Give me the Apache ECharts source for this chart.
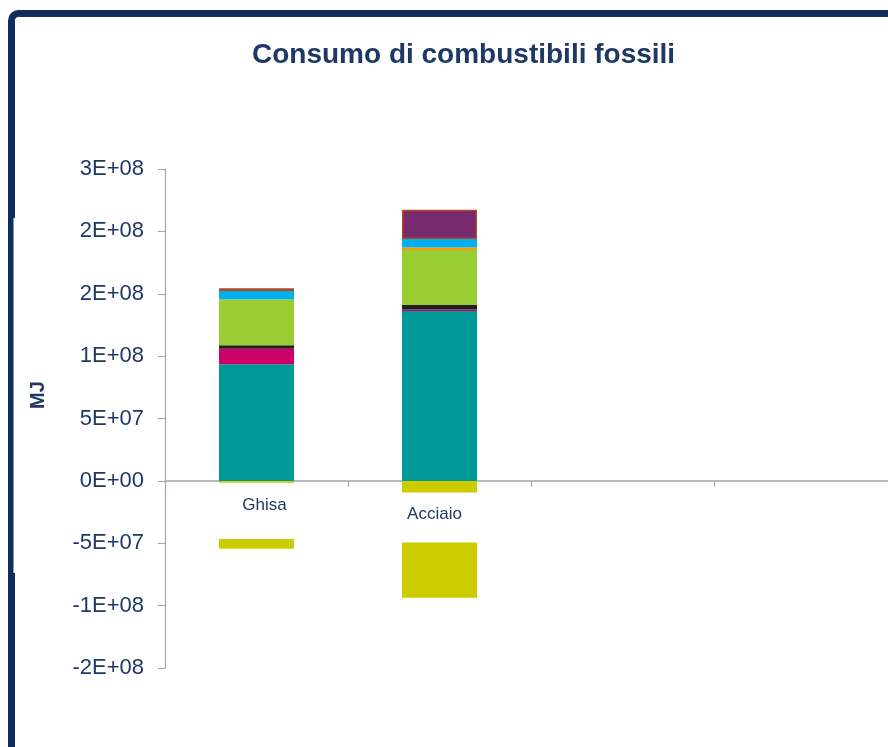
<!DOCTYPE html>
<html>
<head>
<meta charset="utf-8">
<title>Consumo di combustibili fossili</title>
<script src="https://cdn.jsdelivr.net/npm/echarts@6/dist/echarts.min.js"></script>
<style>
  html, body { margin: 0; padding: 0; background: #ffffff; overflow: hidden; width: 888px; height: 747px; }
  /* the plot runs a little past the right edge of the window */
  #chart { width: 910px; height: 747px; }
</style>
</head>
<body>
<div id="chart"></div>
<script>
// Categories on the x axis (the last two slots are empty)
const categories = ['Ghisa', 'Acciaio', '', ''];

// Positive contributions, MJ (stacked bottom to top)
const teal    = [93.5e6, 136.2e6, null, null];
const magenta = [12.5e6,   1.2e6, null, null];
const dark    = [ 2.7e6,   3.5e6, null, null];
const green   = [36.9e6,  44.1e6, null, null];
const orange  = [    0,    2.1e6, null, null];
const blue    = [ 6.6e6,   6.7e6, null, null];
const purple  = [ 2.2e6,  23.5e6, null, null];

// Negative contributions, MJ (stacked downward from zero)
const credit1 = [-1.5e6,  -9.4e6, null, null];
const spacer  = [-45.0e6, -40.0e6, null, null];
const credit2 = [-8.0e6,  -44.3e6, null, null];

// Y axis range and the printed tick labels
const yMin = -150e6, yMax = 250e6, yStep = 50e6;
const tickLabels = ['-2E+08', '-1E+08', '-5E+07', '0E+00', '5E+07', '1E+08', '2E+08', '2E+08', '3E+08'];

const navy = '#1F3864';
const axisGray = '#A0A4B0';
const font = 'Liberation Sans, Arial, sans-serif';

function bar(name, data, color, extra) {
  return Object.assign({
    name: name,
    type: 'bar',
    stack: 'total',
    barWidth: 75,
    data: data,
    itemStyle: { color: color },
    emphasis: { disabled: true },
    animation: false
  }, extra || {});
}

const chart = echarts.init(document.getElementById('chart'), null, { renderer: 'canvas' });

chart.setOption({
  backgroundColor: '#ffffff',
  animation: false,
  title: {
    text: 'Consumo di combustibili fossili',
    left: 247,
    top: 36,
    textStyle: { color: navy, fontFamily: font, fontSize: 28, fontWeight: 'bold' }
  },
  grid: { left: 165, top: 169, width: 732, height: 499, containLabel: false },
  xAxis: {
    type: 'category',
    data: [
      { value: categories[0], textStyle: { padding: [0, 0, 0, 16] } },
      { value: categories[1], textStyle: { padding: [9, 10, 0, 0] } },
      categories[2],
      categories[3]
    ],
    axisLine: { onZero: true, lineStyle: { color: axisGray, width: 1.5 } },
    axisTick: { show: true, length: 6, lineStyle: { color: axisGray } },
    // labels sit just under the zero line rather than at the grid bottom
    axisLabel: { color: navy, fontFamily: font, fontSize: 17, margin: -171, verticalAlign: 'top', interval: 0 },
    splitLine: { show: false }
  },
  yAxis: {
    type: 'value',
    min: yMin,
    max: yMax,
    interval: yStep,
    axisLine: { show: true, lineStyle: { color: axisGray, width: 1.2 } },
    axisTick: { show: true, length: 7, lineStyle: { color: axisGray } },
    axisLabel: {
      color: navy,
      fontFamily: font,
      fontSize: 22,
      margin: 21,
      formatter: function (v) {
        return tickLabels[Math.round((v - yMin) / yStep)];
      }
    },
    splitLine: { show: false }
  },
  series: [
    bar('teal', teal, '#009999'),
    bar('magenta', magenta, '#CC0066'),
    bar('dark', dark, '#231F20'),
    bar('green', green, '#99CC33'),
    bar('orange', orange, '#FF9900'),
    bar('blue', blue, '#00B0F0'),
    bar('purple', purple, '#772B6E', {
      itemStyle: { color: '#772B6E', borderColor: '#B5481E', borderWidth: 1.5 }
    }),
    bar('credit1', credit1, '#CCCC00'),
    bar('spacer', spacer, 'rgba(0,0,0,0)'),
    bar('credit2', credit2, '#CCCC00')
  ],
  graphic: [
    {
      type: 'rect',
      z: 100,
      silent: true,
      shape: { x: 11.5, y: 13.5, width: 920, height: 800, r: 7 },
      style: { fill: null, stroke: '#0E2D5C', lineWidth: 7 }
    },
    {
      type: 'rect',
      z: 101,
      silent: true,
      shape: { x: 13.5, y: 218, width: 3, height: 355 },
      style: { fill: '#ffffff' }
    },
    {
      type: 'text',
      z: 101,
      silent: true,
      x: 38,
      y: 395,
      rotation: Math.PI / 2,
      style: {
        text: 'MJ',
        fill: navy,
        font: 'bold 20px Liberation Sans, Arial, sans-serif',
        align: 'center',
        verticalAlign: 'middle'
      }
    }
  ]
});
</script>
</body>
</html>
